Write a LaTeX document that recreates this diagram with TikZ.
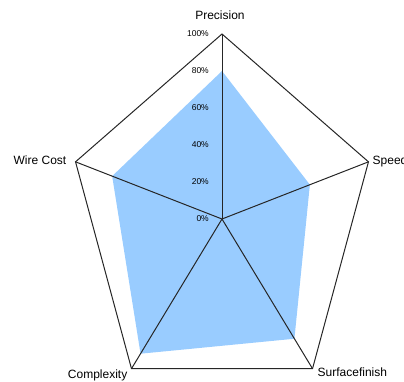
\documentclass[tikz,border=0pt]{standalone}
\usepackage{fontspec}
\newfontfamily\chartfont{Liberation Sans}
\definecolor{radarfill}{RGB}{153,204,255}
\tikzset{
  axislabel/.style={font=\chartfont\fontsize{12}{12}\selectfont, inner sep=0pt},
  pctlabel/.style={font=\chartfont\fontsize{8.5}{8.5}\selectfont, inner sep=0pt, anchor=east},
  gridline/.style={line width=1pt, black!85},
}
\begin{document}
\begin{tikzpicture}[x=1pt, y=-1pt]
  \useasboundingbox (0,0) rectangle (404,381);

  \begin{scope}[shift={(222,219)}, x=154pt, y=185pt]
    \coordinate (c) at (0,0);
    \foreach \i / \v in {1/0.8, 2/0.6, 3/0.8, 4/0.9, 5/0.75}
      {
        \pgfmathsetmacro{\ang}{90-72*(\i-1)}
        \coordinate (v\i) at ({cos(\ang)},{sin(\ang)});
        \coordinate (d\i) at ({\v*cos(\ang)},{\v*sin(\ang)});
      }
    \foreach \p in {0,20,...,100}
      {
        \coordinate (t\p) at (0,\p/100);
      }
  \end{scope}

  \fill[radarfill] (d1) -- (d2) -- (d3) -- (d4) -- (d5) -- cycle;

  \foreach \i in {1,...,5}
    {
      \draw[gridline] (c) -- (v\i);
    }
  \draw[gridline, line join=miter] (v1) -- (v2) -- (v3) -- (v4) -- (v5) -- cycle;

  \foreach \p in {0,20,...,100}
    {
      \node[pctlabel] (p\p) at ([xshift=-13pt]t\p) {\p\%};
    }

  \node[axislabel, anchor=south] (lprecision) at ([xshift=-2pt, yshift=14pt]v1) {Precision};
  \node[axislabel, anchor=west] (lspeed) at ([xshift=4pt]v2) {Speed};
  \node[axislabel, anchor=east] (lwire) at ([xshift=-9pt, yshift=2pt]v5) {Wire Cost};
  \node[axislabel, anchor=base east] (lcomplex) at ([xshift=-4pt, yshift=-10pt]v4) {Complexity};
  \node[axislabel, anchor=base west] (lsurface) at ([xshift=5pt, yshift=-8pt]v3) {Surfacefinish};
\end{tikzpicture}
\end{document}
